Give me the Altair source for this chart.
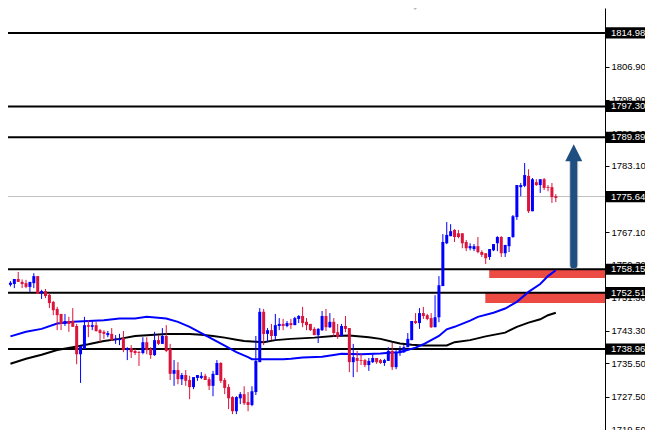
import altair as alt
import pandas as pd

high = [1755.3,1755.8,1757.5,1755.7,1755.6,1755.1,1757.2,1756.5,1753.2,1753.4,1752.4,1750.5,1749.1,1747.4,1747.4,1746.7,1748.8,1745.0,1739.7,1746.7,
1745.9,1745.9,1745.5,1743.8,1743.5,1743.3,1744.0,1742.3,1742.6,1743.3,1739.4,1739.9,1739.0,1738.5,1741.8,1741.8,1739.4,1743.1,1742.3,1744.0,
1744.7,1740.2,1736.3,1735.8,1733.2,1733.9,1732.5,1732.2,1732.7,1733.4,1733.0,1732.2,1733.7,1736.3,1735.8,1732.0,1730.5,1727.6,1727.6,1728.6,
1730.0,1728.6,1730.0,1742.1,1748.8,1748.6,1744.0,1745.0,1747.4,1746.4,1746.2,1745.7,1746.2,1746.7,1747.1,1749.1,1746.4,1745.0,1744.2,1744.0,
1748.1,1748.6,1747.6,1746.4,1745.0,1745.0,1746.9,1744.0,1740.2,1738.5,1737.8,1736.6,1736.8,1737.8,1736.8,1736.6,1736.6,1739.4,1740.4,1738.7,
1739.7,1739.9,1742.8,1745.7,1747.6,1748.8,1749.1,1747.4,1747.6,1751.9,1756.5,1766.6,1769.5,1769.0,1767.8,1767.6,1766.8,1765.2,1764.4,1764.2,
1765.9,1762.7,1762.0,1763.0,1764.2,1766.1,1766.1,1763.9,1765.9,1771.2,1778.4,1778.9,1783.7,1782.2,1780.1,1779.8,1779.8,1780.1,1778.4,1778.9,1776.2]
low = [1754.0,1753.6,1755.1,1753.6,1753.6,1752.7,1753.6,1752.2,1751.0,1751.2,1748.8,1747.1,1743.5,1743.5,1744.5,1743.1,1744.3,1735.3,1730.8,1739.0,
1741.8,1743.5,1743.1,1740.6,1741.4,1741.8,1740.9,1740.2,1739.9,1738.2,1736.3,1736.8,1737.5,1734.9,1737.7,1737.7,1736.6,1737.3,1739.9,1740.2,
1738.2,1731.5,1730.1,1730.5,1730.3,1730.1,1726.9,1729.3,1731.3,1731.7,1731.5,1729.1,1727.6,1732.7,1730.8,1728.1,1724.5,1723.3,1723.3,1725.7,
1725.5,1724.0,1725.2,1727.9,1735.8,1739.9,1740.6,1741.1,1741.1,1743.5,1743.5,1744.2,1743.8,1744.7,1745.2,1744.2,1743.5,1743.3,1742.3,1740.4,
1743.3,1743.3,1744.0,1741.9,1741.4,1741.9,1743.0,1733.4,1732.2,1733.4,1735.1,1734.6,1733.7,1735.6,1735.4,1735.4,1734.9,1736.1,1733.9,1734.1,
1737.3,1738.0,1739.4,1741.1,1745.0,1743.8,1746.2,1745.9,1744.0,1744.2,1745.4,1754.1,1764.2,1766.1,1764.7,1765.6,1763.2,1762.5,1762.7,1762.5,
1762.0,1761.1,1759.4,1760.4,1762.5,1762.5,1761.1,1761.1,1762.3,1765.7,1770.0,1775.7,1777.9,1771.7,1772.1,1778.2,1776.5,1777.2,1776.9,1774.1,1774.3]
open_ = [1754.4,1754.6,1755.8,1755.1,1754.8,1753.9,1754.8,1756.5,1752.4,1752.9,1752.0,1750.3,1748.6,1747.4,1745.0,1745.7,1745.7,1744.5,1737.7,1739.0,
1744.7,1744.3,1744.7,1743.5,1743.1,1742.3,1742.6,1741.1,1741.1,1741.6,1738.7,1739.2,1738.5,1738.2,1738.0,1740.6,1739.0,1737.5,1741.1,1740.2,
1742.1,1739.0,1733.0,1733.9,1731.7,1732.7,1731.5,1729.8,1732.0,1732.0,1732.5,1731.7,1730.1,1732.7,1735.6,1731.5,1729.8,1727.4,1724.0,1727.1,
1728.1,1726.2,1725.5,1728.6,1735.8,1747.9,1742.6,1743.5,1742.1,1744.5,1745.0,1744.5,1745.2,1744.7,1746.2,1746.9,1745.5,1745.0,1743.8,1742.3,
1743.5,1746.9,1744.2,1745.5,1743.0,1742.1,1744.5,1744.0,1735.8,1736.8,1736.3,1736.3,1735.1,1735.8,1736.8,1736.3,1735.6,1736.1,1738.5,1734.6,
1738.0,1738.2,1739.4,1741.1,1745.7,1745.2,1747.6,1747.1,1746.4,1744.2,1746.6,1754.1,1764.4,1766.1,1767.6,1766.8,1766.8,1764.7,1763.2,1763.0,
1763.7,1762.3,1762.0,1761.1,1762.7,1764.4,1765.9,1762.0,1763.7,1765.9,1770.7,1777.9,1778.2,1780.6,1772.1,1779.1,1778.4,1779.8,1777.9,1777.9,1775.7]
close = [1754.9,1755.8,1755.1,1754.6,1753.9,1755.1,1756.5,1752.2,1752.9,1751.7,1750.0,1748.3,1747.1,1745.0,1745.7,1745.0,1744.3,1737.7,1739.7,1744.7,
1744.3,1744.7,1743.3,1742.8,1742.6,1742.8,1741.1,1741.4,1741.4,1738.7,1739.2,1738.2,1738.0,1738.0,1740.6,1738.7,1737.5,1741.1,1740.2,1742.1,
1738.5,1733.0,1733.9,1731.7,1732.7,1731.3,1729.8,1732.2,1732.7,1732.5,1731.5,1730.1,1733.0,1735.6,1731.3,1729.6,1727.1,1724.0,1727.4,1728.1,
1725.9,1725.5,1728.8,1736.1,1747.9,1742.6,1743.5,1742.1,1744.7,1745.0,1744.5,1745.2,1744.7,1746.4,1746.9,1745.2,1744.7,1743.5,1742.3,1743.8,
1746.9,1744.2,1745.5,1742.8,1741.9,1744.5,1743.8,1735.8,1737.0,1736.1,1736.1,1735.1,1736.1,1736.8,1735.8,1735.6,1736.3,1738.5,1734.6,1738.2,
1738.7,1739.4,1741.4,1745.7,1745.2,1747.6,1746.9,1746.2,1744.2,1746.6,1754.3,1764.7,1766.4,1767.3,1765.9,1765.9,1764.4,1763.2,1763.7,1763.7,
1762.3,1761.6,1760.8,1763.0,1764.2,1765.9,1762.0,1764.0,1765.9,1770.9,1778.4,1778.4,1780.8,1772.1,1779.8,1778.4,1779.8,1777.7,1777.7,1775.5,1775.3]

ma_blue_k = [0,4,8,12,16,20,24,28,32,35,40,43,46,49,52,55,58,61,62,65,70,72,75,80,83,85,90,95,98,100,104,106,110,112,114,118,120,124,127,130,133,136,138,140]
ma_blue = [1742.0,1743.1,1743.8,1745.1,1745.5,1745.7,1745.9,1746.3,1746.3,1746.7,1746.3,1745.5,1744.3,1742.8,1741.3,1739.8,1738.2,1737.0,1736.5,1736.5,1736.5,1736.6,1736.9,1737.1,1737.5,1737.8,1737.7,1737.9,1738.1,1738.2,1739.3,1740.1,1742.1,1743.7,1744.3,1745.8,1746.7,1747.7,1748.7,1750.3,1752.7,1754.6,1756.5,1757.9]
ma_black_k = [0,4,8,12,16,20,24,28,32,35,40,46,49,52,55,58,60,63,65,68,72,78,83,87,92,95,98,100,103,106,110,112,114,118,122,127,130,133,136,138,140]
ma_black = [1735.4,1736.6,1737.6,1738.7,1739.4,1740.1,1740.9,1741.4,1742.1,1742.3,1742.6,1742.6,1742.4,1742.1,1741.7,1741.2,1740.9,1740.7,1740.6,1741.1,1741.4,1741.7,1742.1,1742.2,1741.8,1741.4,1740.7,1740.3,1740.0,1739.8,1739.8,1739.8,1740.6,1741.1,1742.0,1742.9,1744.3,1745.3,1746.1,1747.1,1747.7]

levels = [1814.98, 1797.30, 1789.89, 1758.15, 1752.51, 1738.96]
current_price = [1775.64]
boxed = [1814.98, 1797.30, 1789.89, 1775.64, 1758.15, 1752.51, 1738.96]
ticks = [1806.90, 1798.90, 1790.90, 1783.10, 1767.10, 1759.30, 1751.30, 1743.30, 1735.50, 1727.50, 1719.50]

zone_k = [122.9, 121.9]
zone_top = [1758.15, 1752.51]
zone_bottom = [1756.04, 1750.03]

BLUE, RED = "#0000FF", "#DC143C"
FONT = "Liberation Sans"

X0, X1 = -0.625, 152.625
Y0, Y1 = 1719.48, 1820.99
xs = alt.Scale(domain=[X0, X1], nice=False, zero=False, padding=0)
ys = alt.Scale(domain=[Y0, Y1], nice=False, zero=False)
AX = alt.Axis(
    orient="right", values=ticks, format=".2f", grid=False, title=None,
    labelFont=FONT, labelFontSize=9.5, labelColor="#000000", labelPadding=2,
    labelOverlap=False, labelBound=False, labelFlush=False,
    tickColor="#000000", tickSize=4, domainColor="#000000", domainWidth=1)
X = alt.X("k:Q", scale=xs, axis=None)
Y = alt.Y("p:Q", scale=ys, axis=AX, title=None)

n = len(high)
candles = pd.DataFrame({"k": list(range(n)), "h": high, "l": low, "o": open_, "c": close})
candles["color"] = [BLUE if c >= o else RED for o, c in zip(open_, close)]
colour = alt.Color("color:N", scale=None, legend=None)

zones = alt.Chart(pd.DataFrame({"k": zone_k, "k2": [X1, X1], "p": zone_top, "p2": zone_bottom})).mark_rect(color="#EC4B44").encode(
    x=X, x2="k2:Q", y=Y, y2="p2:Q")

price_rule = alt.Chart(pd.DataFrame({"p": current_price})).mark_rule(color="#C0C0C0", strokeWidth=1).encode(y=Y)
level_rules = alt.Chart(pd.DataFrame({"p": levels})).mark_rule(color="#000000", strokeWidth=2).encode(y=Y)

black_line = alt.Chart(pd.DataFrame({"k": ma_black_k, "p": ma_black})).mark_line(color="#000000", strokeWidth=2).encode(x=X, y=Y)
blue_line = alt.Chart(pd.DataFrame({"k": ma_blue_k, "p": ma_blue})).mark_line(color=BLUE, strokeWidth=2).encode(x=X, y=Y)

wicks = alt.Chart(candles).mark_rule(strokeWidth=1).encode(
    x=X, y=alt.Y("h:Q", scale=ys, axis=AX, title=None), y2="l:Q", color=colour)
bodies = alt.Chart(candles).mark_bar(size=3).encode(
    x=X, y=alt.Y("o:Q", scale=ys, axis=AX, title=None), y2="c:Q", color=colour)

arrow_k = [144.6]
arrow_tail = [1759.2]
arrow_neck = [1784.2]
arrow_mid = [1786.2]
arrow_df = pd.DataFrame({"k": arrow_k, "p": arrow_tail, "p2": arrow_neck, "m": arrow_mid})
arrow_shadow = alt.Chart(arrow_df).mark_rule(color="#9A9A9A", opacity=0.45, strokeWidth=9, strokeCap="round").encode(
    x=X, y=Y, y2="p2:Q")
arrow_shaft = alt.Chart(arrow_df).mark_rule(color="#1F4E80", strokeWidth=7, strokeCap="round").encode(
    x=X, y=Y, y2="p2:Q")
arrow_head = alt.Chart(arrow_df).mark_point(
    shape="M-1,1L0,-1L1,1Z", filled=True, color="#1F4E80", opacity=1, size=289).encode(
    x=X, y=alt.Y("m:Q", scale=ys, axis=AX, title=None))

marker_df = pd.DataFrame({"k": [103.9], "p": [1821.1]})
top_marker = alt.Chart(marker_df).mark_point(
    shape="M-1,-0.55L1,-0.55L0,0.55Z", filled=True, color="#B8B8B8", opacity=1, size=81).encode(x=X, y=Y)

box_df = pd.DataFrame({"k": [152.88] * len(boxed), "k2": [162.9] * len(boxed),
                       "p": [b + 1.35 for b in boxed], "p2": [b - 1.35 for b in boxed],
                       "v": boxed, "t": [f"{b:.2f}" for b in boxed]})
boxes = alt.Chart(box_df).mark_rect(color="#000000").encode(x=X, x2="k2:Q", y=Y, y2="p2:Q")
box_text = alt.Chart(box_df.assign(kt=154.16)).mark_text(
    color="#FFFFFF", align="left", baseline="middle", font=FONT, fontSize=9.5).encode(
    x=alt.X("kt:Q", scale=xs, axis=None), y=alt.Y("v:Q", scale=ys, axis=AX, title=None), text="t:N")

chart = alt.layer(
    zones, price_rule, level_rules, black_line, blue_line, wicks, bodies,
    arrow_shadow, arrow_shaft, arrow_head, top_marker, boxes, box_text,
).properties(
    width=597, height=422,
    autosize=alt.AutoSizeParams(type="none"),
    padding={"left": 0, "top": 0, "right": 40, "bottom": 0},
    background="#FFFFFF",
).configure_view(stroke=None)

chart.save("out.html", embed_options={"renderer": "svg", "actions": False})
